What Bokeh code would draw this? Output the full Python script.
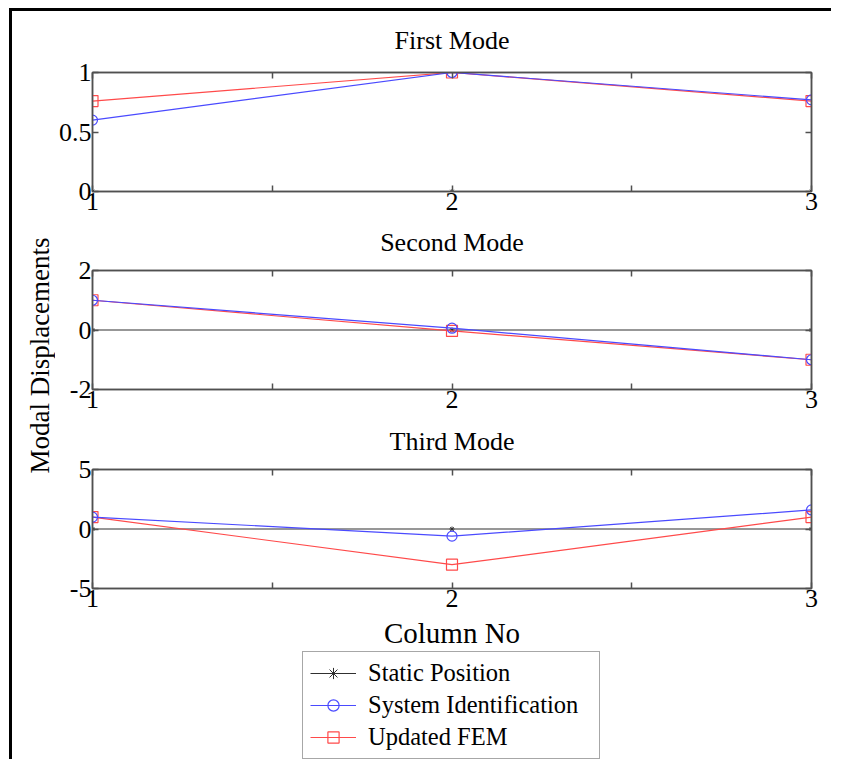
import math
from bokeh.plotting import figure
from bokeh.models import (FixedTicker, LinearAxis, Range1d, Legend, LegendItem, Label)
from bokeh.layouts import column, row
from bokeh.embed import file_html
from bokeh.resources import INLINE

# ---- data ----
columns = [1, 2, 3]
static_position = [0, 0, 0]
mode1_sysid = [0.60, 1.00, 0.77]
mode1_fem = [0.76, 1.00, 0.76]
mode2_sysid = [1.00, 0.06, -1.00]
mode2_fem = [1.00, -0.03, -1.00]
mode3_sysid = [1.00, -0.60, 1.60]
mode3_fem = [1.00, -3.00, 1.00]

titles = ["First Mode", "Second Mode", "Third Mode"]
y_limits = [(0, 1), (-2, 2), (-5, 5)]
y_ticks = [[0, 0.5, 1], [-2, 0, 2], [-5, 0, 5]]
y_tick_labels = [["0", "0.5", "1"], ["-2", "0", "2"], ["-5", "0", "5"]]
x_ticks = [1, 2, 3]
x_minor = [1.5, 2.5]
series_names = ["Static Position", "System Identification", "Updated FEM"]

FONT = "Liberation Serif"
AX = "#505050"
BLUE = "#4a4aff"
RED = "#ff4a4a"
STATIC = "#303030"

FRAME_W = 719
FRAME_H = 119
LEFT = 37
RIGHT = 20
FULL_W = LEFT + FRAME_W + RIGHT
LABEL_W = 43


def bare_fig(w, h, **kw):
    f = figure(width=w, height=h, output_backend="svg", toolbar_location=None,
               x_range=Range1d(0, 1), y_range=Range1d(0, 1), min_border=0,
               frame_align=False, **kw)
    f.axis.visible = False
    f.grid.visible = False
    f.outline_line_color = None
    f.border_fill_color = None
    f.background_fill_color = None
    return f


def style_axis(ax, labels=True):
    ax.axis_line_color = AX
    ax.axis_line_width = 1.5
    ax.major_tick_line_color = AX
    ax.minor_tick_line_color = AX
    ax.major_tick_line_width = 1.5
    ax.minor_tick_line_width = 1.5
    ax.major_tick_in = 6
    ax.major_tick_out = 0
    ax.minor_tick_in = 6
    ax.minor_tick_out = 0
    ax.major_label_text_font = FONT
    ax.major_label_text_color = "black"
    ax.major_label_text_font_size = "26px"
    ax.major_label_standoff = 1
    ax.axis_label_text_font = FONT
    ax.axis_label_text_font_style = "normal"
    ax.axis_label_text_font_size = "29px"
    ax.axis_label_text_color = "black"
    if not labels:
        ax.major_label_text_font_size = "1px"
        ax.major_label_text_alpha = 0
        ax.major_label_standoff = 0


series_data = [(mode1_sysid, mode1_fem), (mode2_sysid, mode2_fem), (mode3_sysid, mode3_fem)]
title_h = [46, 30, 31]          # heights of the title strips
title_y = [17, 15, 15.5]        # title centre, px from the strip's bottom
tops = [15, 13, 13]
bottoms = [36, 36, 62]
blocks = []
bottom_axes = []
for i in range(3):
    tf = bare_fig(FULL_W, title_h[i])
    tf.add_layout(Label(x=LEFT + FRAME_W / 2, y=title_y[i], x_units="screen", y_units="screen",
                        text=titles[i], text_align="center", text_baseline="middle",
                        text_font=FONT, text_font_size="26px", text_color="black"))
    blocks.append(tf)

    p = figure(frame_width=FRAME_W, frame_height=FRAME_H, output_backend="svg",
               toolbar_location=None, x_range=Range1d(1, 3), frame_align=False,
               y_range=Range1d(*y_limits[i]), x_axis_location=None, y_axis_location=None,
               min_border_left=LEFT, min_border_right=RIGHT,
               min_border_top=tops[i], min_border_bottom=bottoms[i])
    p.grid.visible = False
    p.outline_line_color = AX
    p.outline_line_width = 1.5
    p.border_fill_color = None

    bx = LinearAxis(ticker=FixedTicker(ticks=x_ticks, minor_ticks=x_minor))
    style_axis(bx)
    p.add_layout(bx, "below")
    ly = LinearAxis(ticker=FixedTicker(ticks=y_ticks[i], minor_ticks=[]))
    ly.major_label_overrides = {t: l for t, l in zip(y_ticks[i], y_tick_labels[i])}
    style_axis(ly)
    p.add_layout(ly, "left")
    ra = LinearAxis(ticker=FixedTicker(ticks=y_ticks[i], minor_ticks=[]))
    style_axis(ra, labels=False)
    p.add_layout(ra, "right")
    ta = LinearAxis(ticker=FixedTicker(ticks=x_ticks, minor_ticks=x_minor))
    style_axis(ta, labels=False)
    p.add_layout(ta, "above")

    sysid, fem = series_data[i]
    p.line(columns, static_position, line_color=STATIC, line_width=1.2)
    p.scatter(columns, static_position, marker="asterisk", size=5, line_color=STATIC)
    p.line(columns, fem, line_color=RED, line_width=1.2)
    p.scatter(columns, fem, marker="square", size=11, line_color=RED, fill_color=None, line_width=1.2)
    p.line(columns, sysid, line_color=BLUE, line_width=1.2)
    p.scatter(columns, sysid, marker="circle", size=10, line_color=BLUE, fill_color=None, line_width=1.2)
    blocks.append(p)
    bottom_axes.append(bx)

bottom_axes[2].axis_label = "Column No"
bottom_axes[2].axis_label_standoff = 7

# ---- legend strip (proxy renderers lie outside its visible y range) ----
LEG_LEFT = 302 - 55
LEG_W = 298
lf = figure(width=FULL_W, height=108, output_backend="svg", toolbar_location=None,
            x_range=Range1d(1, 3), y_range=Range1d(100, 101), frame_align=False,
            min_border_left=LEG_LEFT, min_border_right=FULL_W - LEG_LEFT - LEG_W,
            min_border_top=0, min_border_bottom=0)
lf.axis.visible = False
lf.grid.visible = False
lf.outline_line_color = None
lf.border_fill_color = None
ls_l = lf.line(columns, static_position, line_color=STATIC, line_width=1.2)
ls_m = lf.scatter(columns, static_position, marker="asterisk", size=5, line_color=STATIC)
ly_l = lf.line(columns, mode3_sysid, line_color=BLUE, line_width=1.2)
ly_m = lf.scatter(columns, mode3_sysid, marker="circle", size=10, line_color=BLUE, fill_color=None, line_width=1.2)
lr_l = lf.line(columns, mode3_fem, line_color=RED, line_width=1.2)
lr_m = lf.scatter(columns, mode3_fem, marker="square", size=11, line_color=RED, fill_color=None, line_width=1.2)
legend = Legend(items=[LegendItem(label=series_names[0], renderers=[ls_l, ls_m]),
                       LegendItem(label=series_names[1], renderers=[ly_l, ly_m]),
                       LegendItem(label=series_names[2], renderers=[lr_l, lr_m])],
                location="top_left", orientation="vertical")
legend.label_text_font = FONT
legend.label_text_font_size = "24.5px"
legend.label_text_color = "black"
legend.glyph_width = 46
legend.glyph_height = 28
legend.label_height = 28
legend.label_width = 224
legend.label_standoff = 12
legend.spacing = 4
legend.padding = 7
legend.margin = 0
legend.border_line_color = AX
legend.border_line_width = 1.5
lf.add_layout(legend, "center")
blocks.append(lf)

total_h = 748
lab = bare_fig(LABEL_W, total_h)
lab.add_layout(Label(x=27.5, y=total_h - (355 - 11), x_units="screen", y_units="screen",
                     text="Modal Displacements", angle=math.pi / 2, text_align="center",
                     text_baseline="middle", text_font=FONT, text_font_size="27px",
                     text_color="black"))

layout = row(lab, column(*blocks, spacing=0), spacing=0,
             styles={"border-left": "3px solid black", "border-top": "3px solid black",
                     "margin-left": "9px", "margin-top": "8px"})

open("out.html", "w").write(file_html(layout, INLINE))
